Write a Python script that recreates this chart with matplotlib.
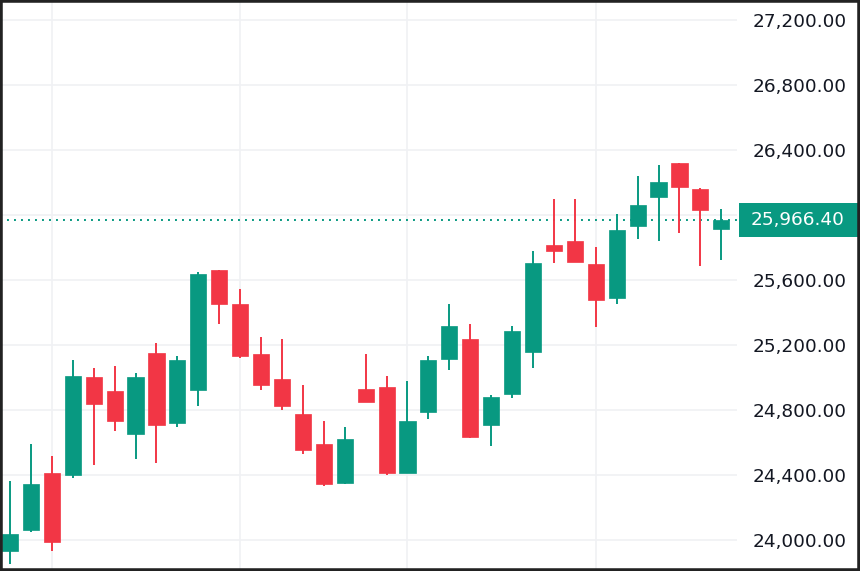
import matplotlib
matplotlib.use("Agg")
import matplotlib.pyplot as plt
import matplotlib.transforms as mtransforms
from matplotlib.patches import Rectangle
import numpy as np

# daily candles
opens = [23932, 24062, 24412, 24402, 25001, 24917, 24650, 25153, 24720, 24921,
         25662, 25450, 25142, 24989, 24777, 24589, 24353, 24931, 24942, 24414,
         24790, 25112, 25237, 24708, 24897, 25157, 25813, 25840, 25697, 25487,
         25934, 26111, 26322, 26158, 25912]
highs = [24365, 24591, 24519, 25108, 25060, 25073, 25025, 25212, 25132, 25649,
         25662, 25543, 25247, 25235, 24952, 24730, 24695, 25142, 25011, 24977,
         25130, 25450, 25331, 24894, 25319, 25778, 26097, 26097, 25801, 26005,
         26240, 26310, 26322, 26168, 26039]
lows = [23850, 24047, 23932, 24380, 24462, 24673, 24496, 24474, 24697, 24827,
        25331, 25122, 24921, 24802, 24531, 24330, 24343, 24849, 24402, 24414,
        24743, 25048, 24626, 24580, 24872, 25060, 25707, 25709, 25311, 25450,
        25851, 25840, 25888, 25686, 25723]
closes = [24035, 24343, 23990, 25011, 24837, 24732, 25001, 24710, 25108, 25637,
          25452, 25132, 24956, 24827, 24556, 24343, 24623, 24849, 24414, 24730,
          25108, 25319, 24636, 24882, 25284, 25707, 25780, 25709, 25475, 25910,
          26062, 26203, 26171, 26029, 25966.40]
month_starts = [2, 11, 19, 28]
price_ticks = [24000, 24400, 24800, 25200, 25600, 26000, 26400, 26800, 27200]
last_price = closes[-1]

up = "#089981"
down = "#F23645"

fig = plt.figure(figsize=(8.6, 5.71), dpi=100)
ax = fig.add_axes([0, 0, 737 / 860, 1])

x = np.arange(len(opens))
o = np.array(opens, dtype=float)
c = np.array(closes, dtype=float)
cols = [up if cc >= oo else down for oo, cc in zip(o, c)]

ax.vlines(x, lows, highs, colors=cols, linewidth=1.4, zorder=3)
ax.bar(x, c - o, bottom=o, width=0.77, color=cols, edgecolor=cols,
       linewidth=0.5, zorder=4)

ax.axhline(last_price, color=up, linestyle=(0, (1, 2.6)), linewidth=1.4, zorder=2)

ax.set_xlim(-0.478, 34.75)
ax.set_ylim(23809, 27323)

ax.set_xticks(month_starts)
ax.set_xticklabels([])
ax.set_yticks(price_ticks)
ax.yaxis.tick_right()
ax.set_yticklabels([f"{p:,.2f}" for p in price_ticks], fontsize=13.3, color="#131722")
ax.tick_params(axis="both", length=0)
ax.tick_params(axis="y", pad=11.5)
ax.grid(True, color="#f0f1f4", linewidth=1.2, zorder=0)
ax.set_axisbelow(True)
for s in ax.spines.values():
    s.set_visible(False)

# last price tag
tr = mtransforms.blended_transform_factory(fig.transFigure, ax.transData)
h = 34 / 0.1625
fig.patches.append(Rectangle((739 / 860, last_price - h / 2), 119 / 860, h,
                             transform=tr, facecolor=up, edgecolor="none",
                             zorder=5, clip_on=False))
fig.text(798 / 860, last_price, f"{last_price:,.2f}", transform=tr,
         ha="center", va="center", color="white", fontsize=13.3, zorder=6)

# dark frame
fig.patches.append(Rectangle((0, 0), 1, 1, transform=fig.transFigure,
                             fill=False, edgecolor="#222222", linewidth=4,
                             zorder=10))

fig.savefig("out.png", dpi=100)
